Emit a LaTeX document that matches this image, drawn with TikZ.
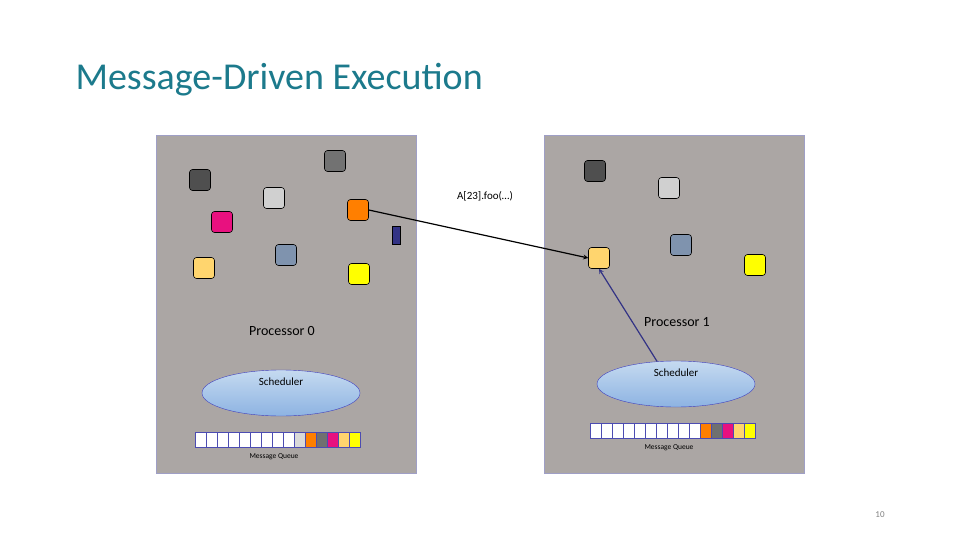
\documentclass[tikz,border=0pt]{standalone}
\usepackage{fontspec}
\setmainfont{Carlito}
\usetikzlibrary{shapes.geometric}
\begin{document}
\begin{tikzpicture}[x=1pt,y=-1pt,
  panel/.style={draw=blue!25!gray!60,fill=procgray,line width=0.8pt},
  obj/.style={draw=black,rounded corners=3pt,minimum size=21pt,inner sep=0pt,line width=0.6pt},
  sched/.style={ellipse,draw=blue!50!gray,top color=schtop,bottom color=schbot,minimum width=158pt,minimum height=46pt,inner sep=0pt},
  cell/.style={draw=blue!40!gray,minimum width=11pt,minimum height=15pt,inner sep=0pt,line width=0.4pt},
  lbl/.style={font=\fontsize{11}{13}\selectfont}]
\definecolor{procgray}{HTML}{ABA6A4}
\definecolor{schtop}{HTML}{C5DAF0}
\definecolor{schbot}{HTML}{8DB3E2}
\definecolor{dk}{HTML}{4F4F4F}
\definecolor{lg}{HTML}{D0D0D0}
\definecolor{mg}{HTML}{E8117F}
\definecolor{orng}{HTML}{FF7F00}
\definecolor{sl}{HTML}{7F93AE}
\definecolor{ly}{HTML}{FFD56E}
\definecolor{yl}{HTML}{FFFF00}
\definecolor{teal}{HTML}{1C7A8C}
\definecolor{qg}{HTML}{707070}
\useasboundingbox (0,0) rectangle (960,540);
\node[anchor=west,text=teal,font=\fontsize{38}{44}\selectfont] (title) at (72,80) {Message-Driven Execution};
\node[panel,minimum width=260pt,minimum height=338pt,inner sep=0pt] (p0) at (286,304) {};
\node[panel,minimum width=260pt,minimum height=338pt,inner sep=0pt] (p1) at (674,304) {};
% P0 objects
\node[obj,fill=dk] (a1) at (200,180) {};
\node[obj,fill=dk!80] (a2) at (335,161) {};
\node[obj,fill=lg] (a3) at (274,198) {};
\node[obj,fill=mg] (a4) at (222,222) {};
\node[obj,fill=orng] (a5) at (358,210) {};
\node[draw=black,fill=blue!40!black!80,minimum width=8pt,minimum height=18pt,inner sep=0pt] (msg) at (396,235) {};
\node[obj,fill=sl] (a6) at (286,255) {};
\node[obj,fill=ly] (a7) at (204,268) {};
\node[obj,fill=yl] (a8) at (359,274) {};
% P1 objects
\node[obj,fill=dk] (b1) at (595,171) {};
\node[obj,fill=lg] (b2) at (669,188) {};
\node[obj,fill=sl] (b3) at (681,245) {};
\node[obj,fill=ly] (b4) at (599,258) {};
\node[obj,fill=yl] (b5) at (755,265) {};
\node[lbl] (call) at (485,196) {A[23].foo(…)};
\draw[-stealth,line width=1.2pt] (a5.east) -- (b4.west);
\node[font=\fontsize{14}{16}\selectfont] (pl0) at (282,331) {Processor 0};
\node[font=\fontsize{14}{16}\selectfont] (pl1) at (677,322) {Processor 1};
\node[sched] (s0) at (281,393) {};
\node[lbl] (st0) at (281,382) {Scheduler};
\node[sched] (s1) at (676,384) {};
\node[lbl] (st1) at (676,373) {Scheduler};
\draw[-stealth,line width=1.2pt,draw=blue!40!black!80] (s1.130) -- (b4.south);
% queues
\foreach \i in {0,...,8} \node[cell,fill=white] (q0\i) at (200.5+11*\i,439.5) {};
\node[cell,fill=lg!80] (q09) at (299.5,439.5) {};
\foreach \c [count=\j from 10] in {orng,qg,mg,ly,yl} \node[cell,fill=\c] (q0\j) at (200.5+11*\j,439.5) {};
\foreach \i in {0,...,9} \node[cell,fill=white] (q1\i) at (595.5+11*\i,430.5) {};
\foreach \c [count=\j from 10] in {orng,qg,mg,ly,yl} \node[cell,fill=\c] (q1\j) at (595.5+11*\j,430.5) {};
\node[font=\fontsize{7.5}{9}\selectfont] (ml0) at (274,457) {Message Queue};
\node[font=\fontsize{7.5}{9}\selectfont] (ml1) at (669,448) {Message Queue};
\node[text=gray,font=\fontsize{9}{11}\selectfont] (pg) at (880,515) {10};
\end{tikzpicture}
\end{document}
